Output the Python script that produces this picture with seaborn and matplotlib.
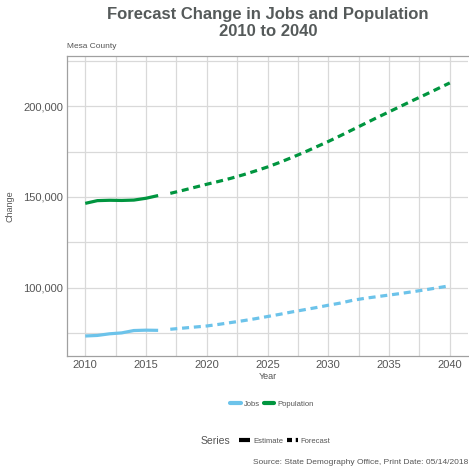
import seaborn as sns
import matplotlib.pyplot as plt
import matplotlib.ticker as mticker
from matplotlib.lines import Line2D
import pandas as pd

# values
est_years = [2010, 2011, 2012, 2013, 2014, 2015, 2016]
fc_years = list(range(2017, 2041))

jobs_est = [73600, 73900, 74800, 75300, 76600, 76800, 76700]
jobs_fc = [77300, 77900, 78500, 79100, 80000, 81000, 82000, 83100, 84300, 85500,
           86800, 88000, 89200, 90500, 91700, 93200, 94300, 95200, 96100, 97000,
           98000, 99000, 100100, 101200]

pop_est = [146500, 148000, 148200, 148100, 148300, 149300, 150800]
pop_fc = [152000, 153600, 155300, 157000, 158600, 160300, 162200, 164300, 166500, 169000,
          171700, 174500, 177500, 180500, 183700, 187000, 190300, 193600, 196800, 200000,
          203200, 206300, 209500, 212700]

colors = {"Jobs": "#6CC3EA", "Population": "#00953F"}

rows = []
for name, est, fc in [("Jobs", jobs_est, jobs_fc), ("Population", pop_est, pop_fc)]:
    rows += [(y, v, name, "Estimate") for y, v in zip(est_years, est)]
    rows += [(y, v, name, "Forecast") for y, v in zip(fc_years, fc)]
df = pd.DataFrame(rows, columns=["Year", "Value", "Variable", "Series"])

sns.set_style("white")
plt.rcParams["font.family"] = ["Liberation Sans", "DejaVu Sans"]

fig = plt.figure(figsize=(4.69, 4.70), dpi=100)
ax = fig.add_axes([67 / 469, 1 - 356 / 470, (468 - 67) / 469, (356 - 56) / 470])

sns.lineplot(data=df, x="Year", y="Value", hue="Variable", style="Series",
             palette=colors, dashes={"Estimate": "", "Forecast": (2.2, 1.5)},
             linewidth=2.3, legend=False, ax=ax)
for ln in ax.get_lines():
    ln.set_dash_capstyle("butt")
    ln.set_solid_capstyle("butt")

ax.set_xlim(2008.5, 2041.5)
ax.set_ylim(62600, 227500)
ax.set_xticks([2010, 2015, 2020, 2025, 2030, 2035, 2040])
ax.set_xticks([2012.5, 2017.5, 2022.5, 2027.5, 2032.5, 2037.5], minor=True)
ax.set_yticks([100000, 150000, 200000])
ax.set_yticks([75000, 125000, 175000, 225000], minor=True)
ax.yaxis.set_major_formatter(mticker.StrMethodFormatter("{x:,.0f}"))
ax.grid(True, which="both", color="#D9D9D9", linewidth=0.9)
ax.set_axisbelow(True)
for side in ["top", "left", "bottom"]:
    ax.spines[side].set_color("#A0A0A0")
    ax.spines[side].set_linewidth(0.9)
ax.spines["right"].set_visible(False)
ax.tick_params(axis="both", which="both", length=0, labelsize=8, labelcolor="#555555", pad=3)

ax.set_xlabel("Year", fontsize=6.5, color="#555555", labelpad=1)
ax.set_ylabel("Change", fontsize=6.5, color="#555555", labelpad=6)

fig.text(268 / 469, 1 - 23 / 470, "Forecast Change in Jobs and Population\n2010 to 2040",
         ha="center", va="center", fontsize=12, fontweight="bold", color="#555A5A",
         linespacing=1.12)
fig.text(67 / 469, 1 - 46 / 470, "Mesa County", ha="left", va="center",
         fontsize=6, color="#555555")

h1 = [Line2D([], [], color=colors["Jobs"], lw=3),
      Line2D([], [], color=colors["Population"], lw=3)]
fig.legend(h1, ["Jobs", "Population"], loc="center", bbox_to_anchor=(272 / 469, 1 - 404 / 470),
           ncol=2, frameon=False, fontsize=5.5, handlelength=1.4, handletextpad=0.4,
           columnspacing=0.5, labelcolor="#555555")

h2 = [Line2D([], [], color="black", lw=3, solid_capstyle="butt"),
      Line2D([], [], color="black", lw=3, dashes=(1.2, 0.9), dash_capstyle="butt")]
fig.legend(h2, ["Estimate", "Forecast"], loc="center", bbox_to_anchor=(285 / 469, 1 - 441 / 470),
           ncol=2, frameon=False, fontsize=5.5, handlelength=1.4, handletextpad=0.4,
           columnspacing=0.5, labelcolor="#555555")
fig.text(230 / 469, 1 - 441 / 470, "Series", ha="right", va="center", fontsize=7.5, color="#555555")

fig.text(468 / 469, 1 - 462 / 470, "Source: State Demography Office, Print Date: 05/14/2018",
         ha="right", va="center", fontsize=6, color="#555555")

fig.savefig("out.png", dpi=100)
